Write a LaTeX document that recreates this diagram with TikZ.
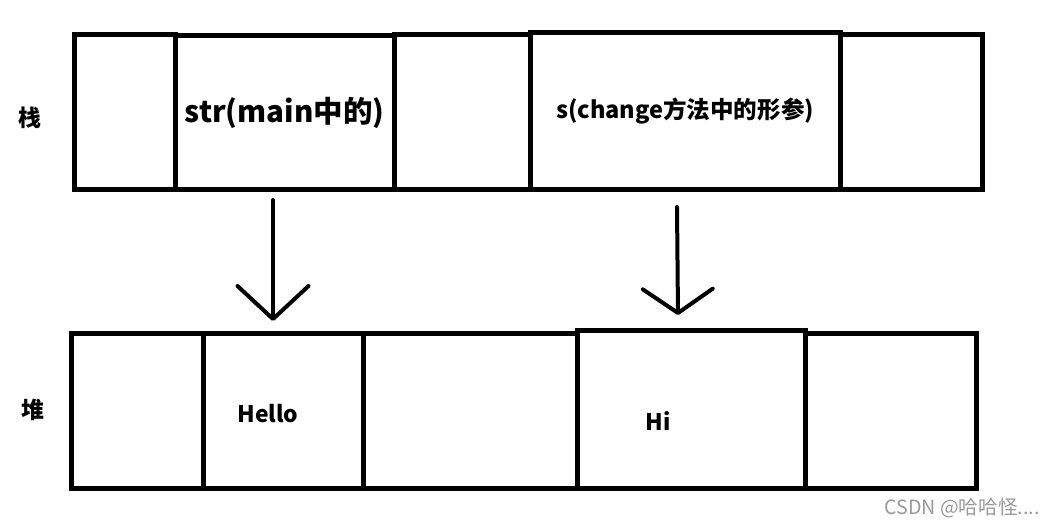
\documentclass[tikz,border=0pt]{standalone}
\usepackage{fontspec}
\setmainfont{Noto Sans CJK SC}
\usetikzlibrary{arrows.meta, positioning, fit}

\begin{document}
\begin{tikzpicture}[
    x=0.02cm, y=-0.02cm,
    cell/.style={rectangle, draw, line width=0.1cm, inner sep=0pt},
    lbl/.style={font=\bfseries\fontsize{13}{15}\selectfont},
    ptr/.style={line width=0.08cm, line cap=round}
]
\useasboundingbox (0,0) rectangle (1058,526);

% stack row
\node[cell, fit={(74,35) (175,190)}] (st1) {};
\node[cell, fit={(175,36) (394,190)}] (st2) {};
\node[cell, fit={(394,35) (530,190)}] (st3) {};
\node[cell, fit={(530,33) (840,190)}] (st4) {};
\node[cell, fit={(840,35) (982,190)}] (st5) {};
\node[font=\bfseries\fontsize{16.8}{18}\selectfont] (strvar) at (st2) {str(main中的)};
\node[font=\bfseries\fontsize{13.4}{15}\selectfont] (svar) at (st4) {s(change方法中的形参)};

% heap row
\node[cell, fit={(71,334) (203,489)}] (hp1) {};
\node[cell, fit={(203,334) (363,489)}] (hp2) {};
\node[cell, fit={(363,334) (577,489)}] (hp3) {};
\node[cell, fit={(577,331) (805,489)}] (hp4) {};
\node[cell, fit={(805,334) (976,489)}] (hp5) {};
\node[lbl] (hello) at (268,414) {Hello};
\node[lbl] (hi) at (658,421) {Hi};

% labels
\node[lbl] (stack) at (30,118) {栈};
\node[lbl] (heap) at (33,410) {堆};

% references
\coordinate (p1) at (273,200);
\coordinate (q1) at (273,321);
\coordinate (p2) at (677,207);
\coordinate (q2) at (678,315);
\draw[ptr, -{Straight Barb[length=0.66cm, width=1.42cm, round]}] (p1) -- (q1);
\draw[ptr, -{Straight Barb[length=0.48cm, width=1.4cm, round]}] (p2) -- (q2);

\node[anchor=east, text=gray!80, font=\fontsize{11.2}{13}\selectfont] (mark) at (1046,508) {CSDN @哈哈怪....};
\end{tikzpicture}
\end{document}
